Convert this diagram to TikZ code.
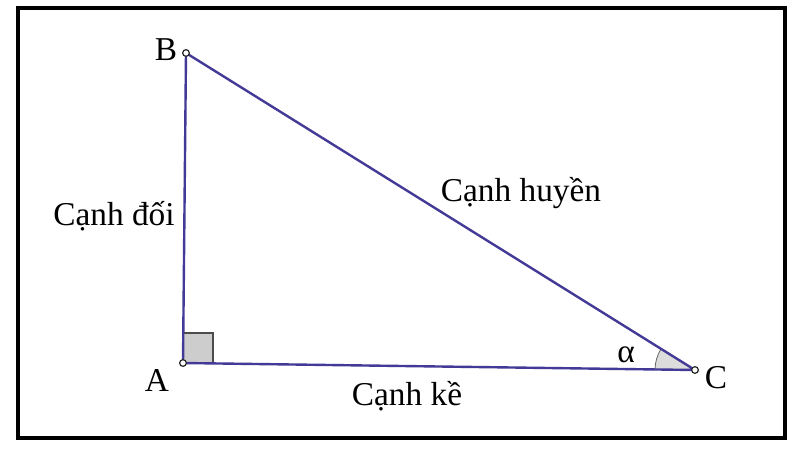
\documentclass[tikz,border=0pt]{standalone}
\usepackage{fontspec}
\setmainfont{Liberation Serif}
\usetikzlibrary{positioning}
\definecolor{sidecol}{RGB}{66,58,150}
\definecolor{markgray}{RGB}{205,205,205}
\begin{document}
\begin{tikzpicture}[x=0.75pt, y=-0.75pt,
    side/.style={draw=sidecol, line width=1.8pt},
    vertex/.style={circle, draw=black!85, fill=white, line width=0.9pt, inner sep=0pt, minimum size=5pt},
    every node/.style={font=\fontsize{25}{30}\selectfont}]

    \useasboundingbox (0,0) rectangle (800,450);
    \draw[line width=3pt] (18,8) rectangle (785,438);

    \coordinate (A) at (183,363);
    \coordinate (B) at (186,53);
    \coordinate (C) at (695,370);

    % right angle and angle marks
    \filldraw[fill=markgray, draw=black!70, line width=0.8pt] (A) -- ++(0,-30) -- ++(30,0) -- ++(0,30) -- cycle;
    \filldraw[fill=markgray!70, draw=black!60, line width=0.6pt] (C) -- ++(179.2:30pt) arc[start angle=179.2, end angle=148.1, radius=30pt] -- cycle;

    \draw[side] (A) -- (B) -- (C) -- cycle;

    \node[vertex] (a) at (A) {};
    \node[vertex] (b) at (B) {};
    \node[vertex] (c) at (C) {};

    \node (lA) at (157,380) {A};
    \node (lB) at (166,50) {B};
    \node (lC) at (716,378) {C};
    \node (alpha) at (626,355) {α};

    \node (doi) at (114,216) {Cạnh đối};
    \node (huyen) at (521,193) {Cạnh huyền};
    \node (ke) at (407,396) {Cạnh kề};
\end{tikzpicture}
\end{document}
